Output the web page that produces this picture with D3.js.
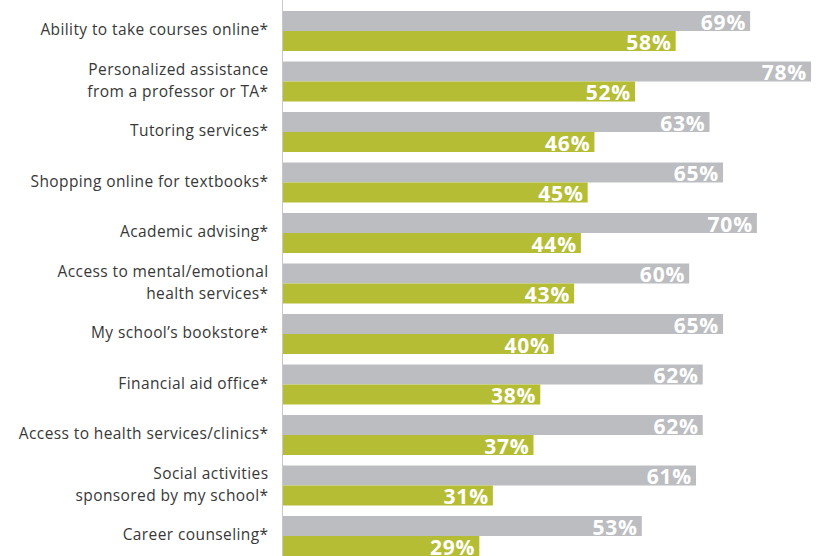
<!DOCTYPE html>
<html>
<head>
<meta charset="utf-8">
<script src="https://cdn.jsdelivr.net/npm/d3@7"></script>
<style>
  html, body { margin: 0; padding: 0; background: #fff; }
  svg { display: block; }
</style>
</head>
<body>
<svg id="chart" width="818" height="556"></svg>
<script>
const categories = [
  ["Ability to take courses online*"],
  ["Personalized assistance", "from a professor or TA*"],
  ["Tutoring services*"],
  ["Shopping online for textbooks*"],
  ["Academic advising*"],
  ["Access to mental/emotional", "health services*"],
  ["My school\u2019s bookstore*"],
  ["Financial aid office*"],
  ["Access to health services/clinics*"],
  ["Social activities", "sponsored by my school*"],
  ["Career counseling*"]
];
const seriesGray = [69, 78, 63, 65, 70, 60, 65, 62, 62, 61, 53];
const seriesGreen = [58, 52, 46, 45, 44, 43, 40, 38, 37, 31, 29];
const seriesNames = ["gray", "green"];
const colors = { gray: "#bcbdc0", green: "#b5bd34" };

const svg = d3.select("#chart");
const keys = categories.map(c => c.join(" "));

const y = d3.scaleBand().domain(keys).range([11, 556]).paddingInner(10.5 / 50.5).paddingOuter(0);
const ySub = d3.scaleBand().domain(seriesNames).range([0, y.bandwidth()]).padding(0);
const x = d3.scaleLinear().domain([0, 100]).range([283, 283 + 677]);

const data = keys.map((k, i) => ({ key: k, lines: categories[i], gray: seriesGray[i], green: seriesGreen[i] }));

const groups = svg.selectAll("g.grp").data(data).join("g")
  .attr("class", "grp")
  .attr("transform", d => `translate(0,${y(d.key)})`);

groups.selectAll("rect").data(d => seriesNames.map(s => ({ s, v: d[s] }))).join("rect")
  .attr("x", x(0))
  .attr("y", d => ySub(d.s))
  .attr("width", d => x(d.v) - x(0))
  .attr("height", ySub.bandwidth())
  .attr("fill", d => colors[d.s]);

groups.selectAll("text.val").data(d => seriesNames.map(s => ({ s, v: d[s] }))).join("text")
  .attr("class", "val")
  .attr("x", d => x(d.v) - 4)
  .attr("y", d => ySub(d.s) + ySub.bandwidth() - 1.5)
  .attr("text-anchor", "end")
  .attr("fill", "#fff")
  .style("font-family", "'Open Sans', sans-serif")
  .style("font-weight", "bold")
  .style("font-size", "21px")
  .style("letter-spacing", "0.8px")
  .text(d => d.v + "%");

groups.each(function(d) {
  const g = d3.select(this);
  const cy = y.bandwidth() / 2 - 1;
  const n = d.lines.length;
  const lh = 21.2;
  d.lines.forEach((ln, j) => {
    g.append("text")
      .attr("text-anchor", "end")
      .attr("fill", "#383838")
      .style("font-family", "'Open Sans', sans-serif")
      .style("font-size", "15.5px")
      .style("letter-spacing", "0.4px")
      .attr("x", 268.5)
      .attr("y", cy + (j - (n - 1) / 2) * lh)
      .attr("dy", "0.35em")
      .text(ln);
  });
});

// vertical axis line
svg.append("line")
  .attr("x1", x(0) - 0.5).attr("x2", x(0) - 0.5)
  .attr("y1", 0).attr("y2", 556)
  .attr("stroke", "#c8c8c8").attr("stroke-width", 1);
</script>
</body>
</html>
